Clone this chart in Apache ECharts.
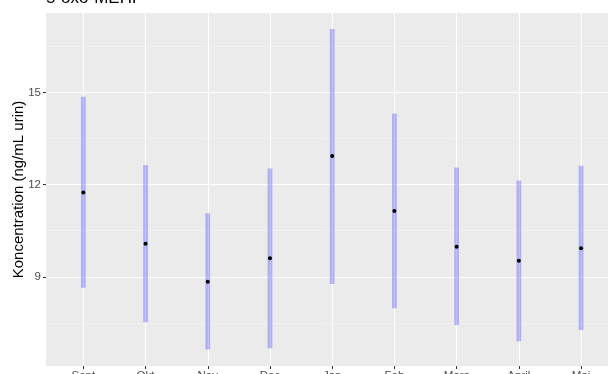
<!DOCTYPE html>
<html>
<head>
<meta charset="utf-8">
<script src="https://cdn.jsdelivr.net/npm/echarts@6/dist/echarts.min.js"></script>
<style>html,body{margin:0;padding:0;background:#fff;}#c{width:608px;height:374px;}</style>
</head>
<body>
<div id="c"></div>
<script>
const months = ['Sept','Okt','Nov','Dec','Jan','Feb','Mars','April','Maj'];
const centre = [11.75, 10.08, 8.84, 9.60, 12.94, 11.14, 9.98, 9.52, 9.93];
const lower  = [8.64, 7.52, 6.63, 6.67, 8.76, 7.97, 7.43, 6.90, 7.26];
const upper  = [14.87, 12.64, 11.07, 12.53, 17.08, 14.32, 12.56, 12.14, 12.62];
const yMajor = [9, 12, 15];
const yMinor = [7.5, 10.5, 13.5, 16.5];
const title = '5-oxo-MEHP';
const yTitle = 'Koncentration (ng/mL urin)';

const font = '"Liberation Sans", Arial, sans-serif';
const idx = months.map((m, i) => i);
const rangeData = idx.map(i => [i, lower[i], upper[i]]);
const pointData = idx.map(i => [i, centre[i]]);

const chart = echarts.init(document.getElementById('c'), null, {renderer: 'canvas'});
chart.setOption({
  animation: false,
  backgroundColor: '#ffffff',
  graphic: [{
    type: 'text', left: 46, top: -10,
    style: {text: title, font: '17px ' + font, fill: '#000000'}
  }],
  grid: {left: 46, top: 13, right: -10.4, bottom: 8, show: true, backgroundColor: '#EBEBEB', borderWidth: 0,
         containLabel: false, outerBoundsMode: 'none'},
  xAxis: {
    type: 'value', min: -0.6, max: 8.6,
    axisLine: {show: false, onZero: false},
    axisTick: {show: true, customValues: idx, length: 3, lineStyle: {color: '#333333', width: 1}},
    axisLabel: {show: true, customValues: idx, formatter: v => months[Math.round(v)] || '', color: '#4D4D4D', fontSize: 11.5, fontFamily: font, margin: 4},
    splitLine: {show: true, lineStyle: {color: '#ffffff', width: 1.1}}
  },
  yAxis: [{
    type: 'value', min: 6.09, max: 17.6,
    name: yTitle, nameLocation: 'middle', nameGap: 20, nameMoveOverlap: false,
    nameTextStyle: {color: '#000000', fontSize: 15, fontFamily: font},
    axisLine: {show: false, onZero: false},
    axisTick: {show: true, customValues: yMajor, length: 3, lineStyle: {color: '#333333', width: 1}},
    axisLabel: {show: true, customValues: yMajor, color: '#4D4D4D', fontSize: 11.5, fontFamily: font, margin: 5},
    splitLine: {show: true, lineStyle: {color: '#ffffff', width: 1.1}}
  }, {
    type: 'value', min: 6.09, max: 17.6, position: 'left',
    axisLine: {show: false, onZero: false},
    axisTick: {show: false, customValues: yMinor},
    axisLabel: {show: false, customValues: yMinor},
    splitLine: {show: true, lineStyle: {color: '#F5F5F5', width: 0.6}}
  }],
  series: [{
    type: 'custom',
    yAxisIndex: 0,
    data: rangeData,
    renderItem: function (params, api) {
      const x = api.value(0);
      const lo = api.coord([x, api.value(1)]);
      const hi = api.coord([x, api.value(2)]);
      const w = 4.8;
      return {
        type: 'rect',
        shape: {x: lo[0] - w / 2, y: hi[1], width: w, height: lo[1] - hi[1]},
        style: {fill: 'rgba(0,0,255,0.25)'}
      };
    },
    z: 2
  }, {
    type: 'scatter',
    yAxisIndex: 0,
    data: pointData,
    symbolSize: 4,
    itemStyle: {color: '#000000', opacity: 1},
    z: 3
  }]
});
</script>
</body>
</html>
